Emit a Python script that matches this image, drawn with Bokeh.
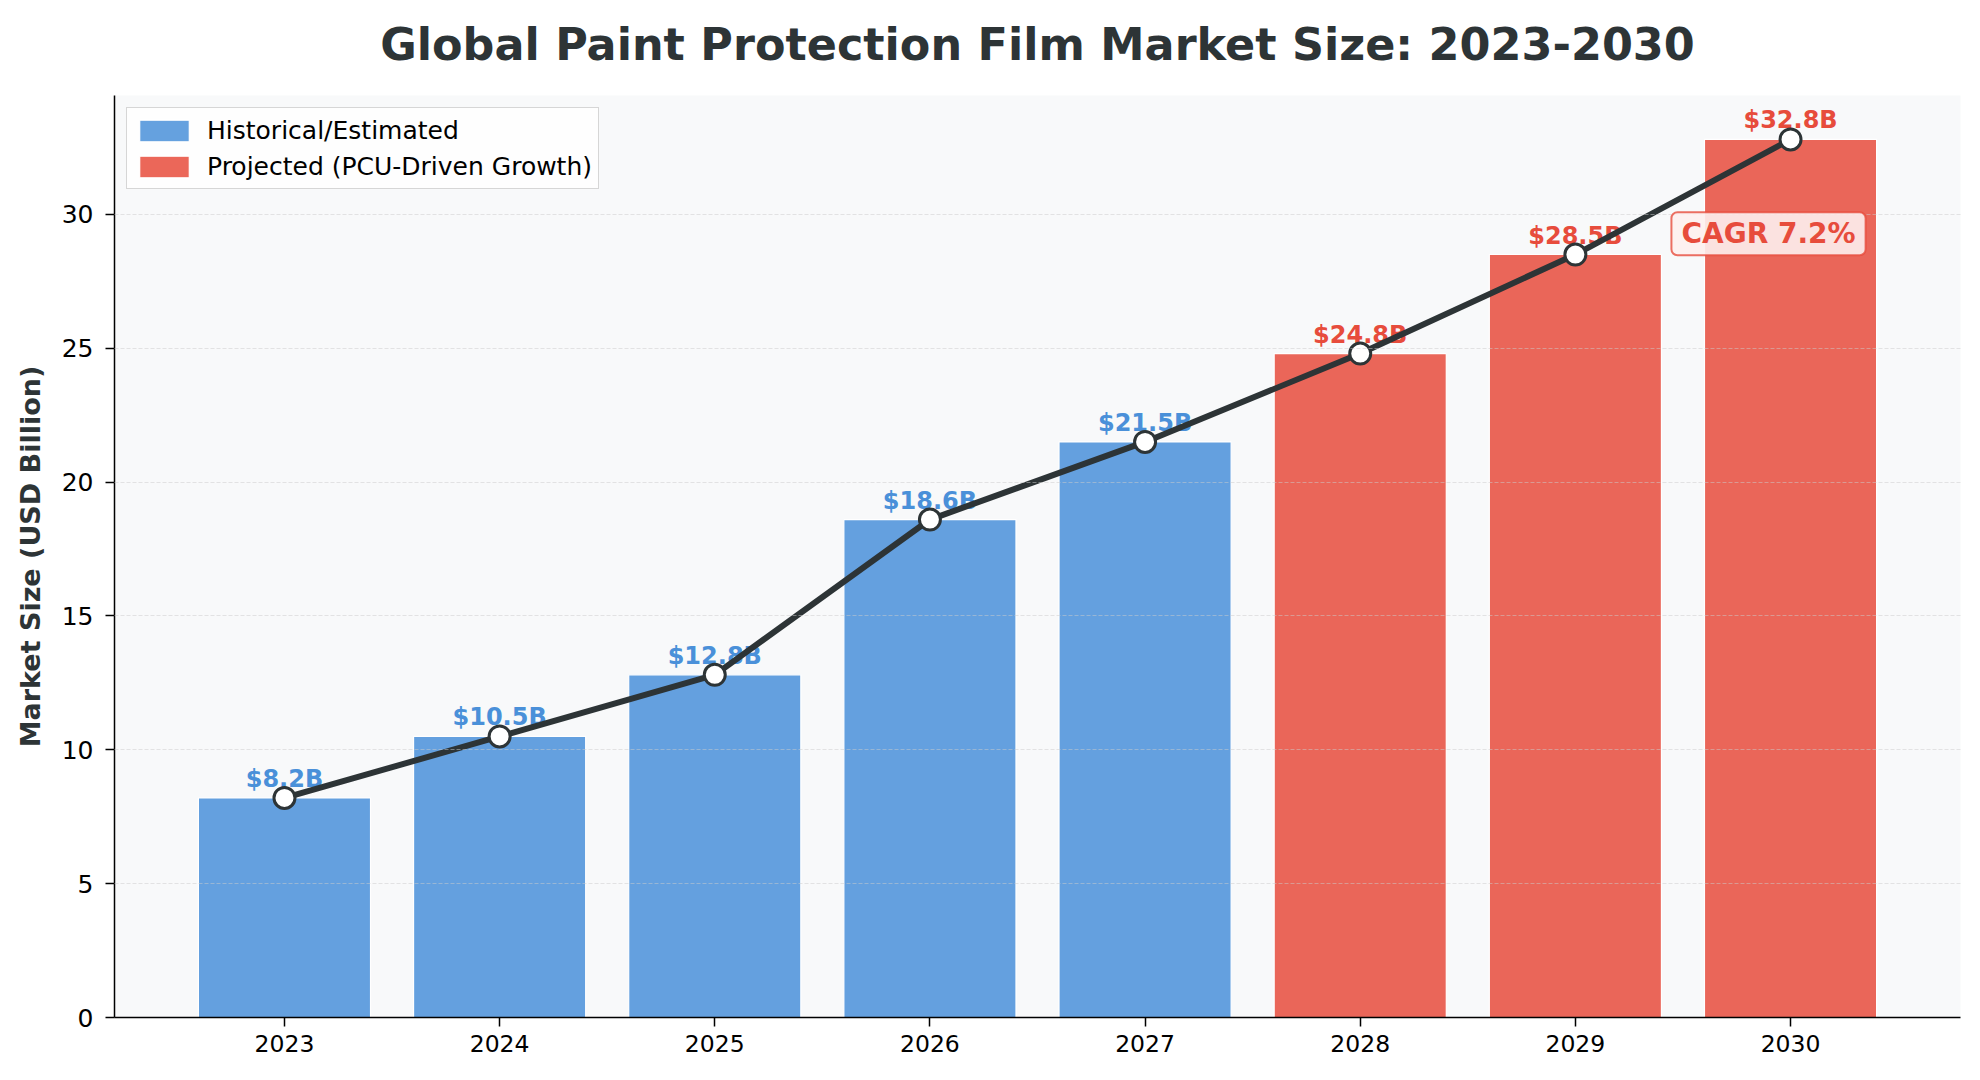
from bokeh.plotting import figure
from bokeh.models import Range1d, FixedTicker, Label, Legend, LegendItem, ColumnDataSource, Title
from bokeh.embed import file_html
from bokeh.resources import INLINE
from bokeh.core.properties import value

# ---- data ----
years = [2023, 2024, 2025, 2026, 2027, 2028, 2029, 2030]
market_size = [8.2, 10.5, 12.8, 18.6, 21.5, 24.8, 28.5, 32.8]
phase = ["Historical/Estimated"] * 5 + ["Projected (PCU-Driven Growth)"] * 3
phase_order = ["Historical/Estimated", "Projected (PCU-Driven Growth)"]
y_ticks = [0, 5, 10, 15, 20, 25, 30]
cagr_text = "CAGR 7.2%"
title_text = "Global Paint Protection Film Market Size: 2023-2030"
y_label = "Market Size (USD Billion)"

# ---- style / layout ----
FONT = "DejaVu Sans"
BLUE = "#4a90d9"
RED = "#e74c3c"
DARK = "#2d3436"
phase_colors = {phase_order[0]: BLUE, phase_order[1]: RED}

W, H = 1964, 1064
B_LEFT, B_RIGHT, B_TOP, B_BOTTOM = 114, 4, 95, 47

bar_w = 0.8
pad = 0.05 * (years[-1] - years[0] + bar_w)
x0 = years[0] - bar_w / 2 - pad
x1 = years[-1] + bar_w / 2 + pad
ymax = max(market_size) * 1.05

p = figure(width=W, height=H, output_backend="svg", toolbar_location=None,
           x_range=Range1d(x0, x1), y_range=Range1d(0, ymax),
           min_border_left=B_LEFT, min_border_right=B_RIGHT,
           min_border_top=B_TOP, min_border_bottom=B_BOTTOM)

p.background_fill_color = "#f8f9fa"
p.border_fill_color = "white"
p.outline_line_color = None

# spacer panel between the frame and the title (white on white, so unseen)
p.add_layout(Title(text=".", text_font_size="8px", text_color="white", standoff=19), "above")

# visible title (outermost panel)
p.title.text = title_text
p.title.align = "center"
p.title.text_font = FONT
p.title.text_font_size = "44.5px"
p.title.text_font_style = "bold"
p.title.text_color = DARK
p.title.standoff = 0

# bars
legend_items = []
for ph in phase_order:
    xs = [y for y, q in zip(years, phase) if q == ph]
    tops = [v for v, q in zip(market_size, phase) if q == ph]
    src = ColumnDataSource(dict(x=xs, top=tops))
    r = p.vbar(x="x", top="top", width=bar_w, source=src,
               fill_color=phase_colors[ph], fill_alpha=0.85,
               line_color="white", line_width=1.2)
    legend_items.append(LegendItem(label=ph, renderers=[r]))

# value labels
lab_src = ColumnDataSource(dict(
    x=years, y=market_size,
    text=[f"${v}B" for v in market_size],
    color=[phase_colors[q] for q in phase],
))
p.text(x="x", y="y", text="text", source=lab_src, text_color="color",
       text_align="center", text_baseline="alphabetic", y_offset=-19,
       text_font=value(FONT), text_font_style="bold", text_font_size="24px")

# trend line
p.line(years, market_size, line_color=DARK, line_width=6)
p.scatter(years, market_size, size=21, fill_color="white", line_color=DARK, line_width=3)

# CAGR annotation (axes-fraction placement)
cagr_x = x0 + 0.896 * (x1 - x0)
cagr_y = 0.85 * ymax
p.add_layout(Label(x=cagr_x, y=cagr_y, text=cagr_text, text_align="center",
                   text_baseline="middle", text_font=FONT, text_font_size="28px",
                   text_font_style="bold", text_color=RED,
                   background_fill_color="#fdf0ee", background_fill_alpha=0.9,
                   border_line_color=RED, border_line_width=2, border_line_alpha=0.8,
                   padding=(10, 5), border_radius=6))

# legend
legend = Legend(items=legend_items, location="top_left")
legend.label_text_font = FONT
legend.label_text_font_size = "25px"
legend.label_text_color = "black"
legend.glyph_width = 62
legend.glyph_height = 27
legend.label_height = 32
legend.label_standoff = 12
legend.padding = 6
legend.spacing = 4
legend.margin = 12
legend.background_fill_color = "white"
legend.background_fill_alpha = 0.8
legend.border_line_color = "#cccccc"
legend.border_line_alpha = 0.8
legend.border_line_width = 1
p.add_layout(legend)

# grid
p.xgrid.visible = False
p.ygrid.ticker = FixedTicker(ticks=y_ticks)
p.ygrid.grid_line_color = "#cccccc"
p.ygrid.grid_line_alpha = 0.5
p.ygrid.grid_line_dash = "4 2"
p.ygrid.level = "guide"

# axes
p.xaxis.ticker = FixedTicker(ticks=years)
p.yaxis.ticker = FixedTicker(ticks=y_ticks)
for ax in (p.xaxis, p.yaxis):
    ax.minor_tick_line_color = None
    ax.major_tick_in = 0
    ax.major_tick_out = 9
    ax.axis_line_color = "black"
    ax.axis_line_width = 1.5
    ax.major_tick_line_color = "black"
    ax.major_tick_line_width = 1.5
    ax.major_label_text_font = FONT
    ax.major_label_text_color = "black"
p.xaxis.major_label_text_font_size = "23.5px"
p.yaxis.major_label_text_font_size = "25px"
p.xaxis.major_label_standoff = 8
p.yaxis.major_label_standoff = 12
p.yaxis.axis_label = y_label
p.yaxis.axis_label_text_font = FONT
p.yaxis.axis_label_text_font_size = "27px"
p.yaxis.axis_label_text_font_style = "bold"
p.yaxis.axis_label_text_color = DARK
p.yaxis.axis_label_standoff = 13

open("out.html", "w").write(file_html(p, INLINE))
